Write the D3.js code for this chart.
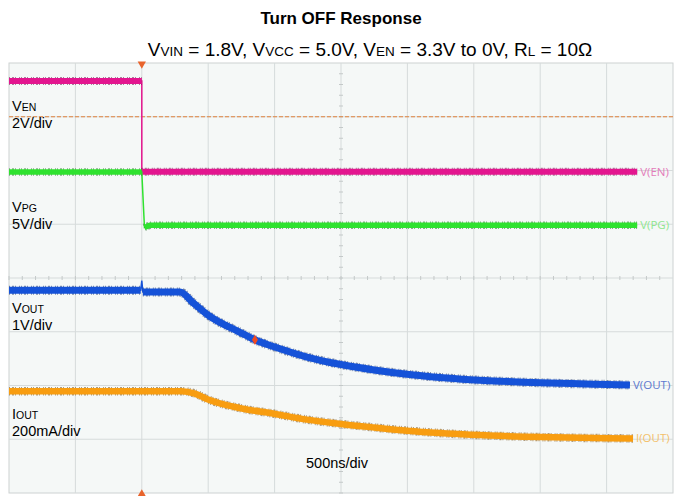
<!DOCTYPE html>
<html>
<head>
<meta charset="utf-8">
<script src="https://cdn.jsdelivr.net/npm/d3@7"></script>
<style>
  body { margin: 0; background: #fff; }
  text { font-family: "Liberation Sans", Arial, sans-serif; }
</style>
</head>
<body>
<div id="myGraph"></div>
<script>
// time axis in ns, 500ns/div, trigger 2 div from the left
var timeDomain = [-1000, 4000]
var divCount = 10
var rowCount = 8

// V(EN), volts
var enTime = [-1000, 0, 0, 3730]
var enVal = [3.33, 3.33, -0.05, -0.05]

// V(PG), volts
var pgTime = [-1000, 0, 20, 60, 3730]
var pgVal = [4.85, 4.85, -0.3, -0.1, -0.1]

// V(OUT), volts
var outTime = [-1000, -8, 0, 8, 288, 386, 499, 739, 852, 995, 1244, 1500, 1748, 1997, 2245, 3006, 3503, 3676]
var outVal = [1.77, 1.77, 1.95, 1.74, 1.74, 1.54, 1.31, 0.99, 0.85, 0.72, 0.53, 0.39, 0.29, 0.21, 0.15, 0.05, 0.02, 0.01]

// I(OUT), mA
var ioutTime = [-1000, 300, 400, 499, 739, 995, 1244, 1500, 1748, 1997, 2245, 3006, 3503, 3699]
var ioutVal = [179, 179, 170, 148, 116, 95, 73, 57, 44, 32, 23, 8, 4, 3]

// channel scale (units/div) and ground position (div from center)
var channels = [
  {name: "V(EN)", time: enTime, val: enVal, perDiv: 2, ground: 2, width: 6, color: "#e3168f", dark: "#5e0a3e", label: "#e37cba", curve: d3.curveLinear},
  {name: "V(PG)", time: pgTime, val: pgVal, perDiv: 5, ground: 1, width: 5.5, color: "#2fe22f", dark: "#165e16", label: "#8fe68f", curve: d3.curveLinear},
  {name: "V(OUT)", time: outTime, val: outVal, perDiv: 1, ground: -2, width: 7, color: "#1552d8", dark: "#081f5c", label: "#5d79cf", curve: d3.curveMonotoneX},
  {name: "I(OUT)", time: ioutTime, val: ioutVal, perDiv: 200, ground: -3, width: 6.5, color: "#f89d10", dark: "#6a4006", label: "#f3c06a", curve: d3.curveMonotoneX}
]

var sideLabels = [
  {main: "V", sub: "EN", scale: "2V/div", y: 111},
  {main: "V", sub: "PG", scale: "5V/div", y: 212},
  {main: "V", sub: "OUT", scale: "1V/div", y: 313},
  {main: "I", sub: "OUT", scale: "200mA/div", y: 419}
]

var triggerLevel = 3     // div, dashed level line
var cursorTime = 852     // marker dot on V(OUT)

var width = 678
var height = 496
var plot = {left: 9, right: 673, top: 63, bottom: 493}

var svg = d3.select("#myGraph")
  .append("svg")
    .attr("width", width)
    .attr("height", height)

var x = d3.scaleLinear().domain(timeDomain).range([plot.left, plot.right])
var y = d3.scaleLinear().domain([-rowCount / 2, rowCount / 2]).range([plot.bottom, plot.top])

// titles
svg.append("text")
  .attr("x", 341).attr("y", 24)
  .attr("text-anchor", "middle")
  .style("font-size", "17px").style("font-weight", "bold")
  .text("Turn OFF Response")

var sub = svg.append("text")
  .attr("x", 370).attr("y", 56)
  .attr("text-anchor", "middle")
  .style("font-size", "19px")
var subParts = [["V", "VIN", " = 1.8V, "], ["V", "VCC", " = 5.0V, "], ["V", "EN", " = 3.3V to 0V, "], ["R", "L", " = 10\u03a9"]]
subParts.forEach(function(p) {
  sub.append("tspan").text(p[0])
  sub.append("tspan").style("font-size", "13.5px").text(p[1])
  sub.append("tspan").text(p[2])
})

// plot background
svg.append("rect")
  .attr("x", plot.left).attr("y", plot.top)
  .attr("width", plot.right - plot.left).attr("height", plot.bottom - plot.top)
  .style("fill", "#f5f8f7")
  .style("stroke", "#cdd2d2")

// grid
var grid = svg.append("g").style("stroke", "#d6dbdb").style("stroke-width", 1)
grid.selectAll(".vline")
  .data(d3.range(1, divCount))
  .enter().append("line")
    .attr("x1", function(d) { return x(timeDomain[0] + d * 500) })
    .attr("x2", function(d) { return x(timeDomain[0] + d * 500) })
    .attr("y1", plot.top).attr("y2", plot.bottom)
grid.selectAll(".hline")
  .data(d3.range(-rowCount / 2 + 1, rowCount / 2))
  .enter().append("line")
    .attr("y1", function(d) { return y(d) })
    .attr("y2", function(d) { return y(d) })
    .attr("x1", plot.left).attr("x2", plot.right)

// minor ticks on the center cross
var cx = x(1500)
var ticks = svg.append("g").style("stroke", "#c4c9c9")
ticks.selectAll(".xt")
  .data(d3.range(timeDomain[0], timeDomain[1], 100))
  .enter().append("line")
    .attr("x1", function(d) { return x(d) }).attr("x2", function(d) { return x(d) })
    .attr("y1", y(0) - 2).attr("y2", y(0) + 2)
ticks.selectAll(".yt")
  .data(d3.range(-rowCount / 2, rowCount / 2, 0.2))
  .enter().append("line")
    .attr("y1", function(d) { return y(d) }).attr("y2", function(d) { return y(d) })
    .attr("x1", cx - 2).attr("x2", cx + 2)

// trigger level
svg.append("line")
  .attr("x1", plot.left).attr("x2", plot.right)
  .attr("y1", y(triggerLevel)).attr("y2", y(triggerLevel))
  .style("stroke", "#e0823c")
  .style("stroke-dasharray", "4,2")
  .style("stroke-width", 1)

// side labels
sideLabels.forEach(function(l) {
  var t = svg.append("text").attr("x", 12).attr("y", l.y).style("font-size", "14.5px")
  t.append("tspan").text(l.main)
  t.append("tspan").style("font-size", "10.5px").text(l.sub)
  svg.append("text").attr("x", 12).attr("y", l.y + 17).style("font-size", "14.5px").text(l.scale)
})

svg.append("text")
  .attr("x", 306).attr("y", 468)
  .style("font-size", "14.5px")
  .text("500ns/div")

// traces: thin line for the whole record, thick band over the slow parts
channels.forEach(function(c) {
  var pts = c.time.map(function(t, i) { return [x(t), y(c.ground + c.val[i] / c.perDiv)] })
  var line = d3.line().curve(c.curve)
  // split where the trace jumps (steep edges are drawn thin like on the scope)
  var runs = [[pts[0]]]
  for (var i = 1; i < pts.length; i++) {
    var dx = pts[i][0] - pts[i - 1][0]
    var dy = Math.abs(pts[i][1] - pts[i - 1][1])
    if (dy > 4 * Math.max(dx, 0.1)) runs.push([pts[i]])
    else runs[runs.length - 1].push(pts[i])
  }
  svg.append("path")
    .attr("d", d3.line()(pts))
    .style("fill", "none")
    .style("stroke", c.color)
    .style("stroke-width", 1.5)
  runs.filter(function(r) { return r.length > 1 }).forEach(function(r) {
    svg.append("path")
      .attr("d", line(r))
      .style("fill", "none")
      .style("stroke", c.dark)
      .style("stroke-width", c.width + 2)
      .style("stroke-dasharray", "1,2,2,1,1,3,1,1")
      .style("opacity", 0.5)
    svg.append("path")
      .attr("d", line(r))
      .style("fill", "none")
      .style("stroke", c.color)
      .style("stroke-width", c.width)
  })
  var last = pts[pts.length - 1]
  svg.append("text")
    .attr("x", last[0] + 3).attr("y", last[1] + 4)
    .style("font-family", "'Open Sans', sans-serif")
    .style("font-size", "11.5px")
    .style("fill", c.label)
    .text(c.name)
})

// cursor dot on V(OUT)
var outCh = channels[2]
svg.append("path")
  .attr("d", d3.symbol().type(d3.symbolDiamond).size(30)())
  .attr("transform", "translate(" + x(cursorTime) + "," + y(outCh.ground + outVal[outTime.indexOf(cursorTime)] / outCh.perDiv) + ")")
  .style("fill", "#ee4a22")

// trigger markers
svg.append("path")
  .attr("d", d3.symbol().type(d3.symbolTriangle).size(30)())
  .attr("transform", "translate(" + x(0) + "," + (plot.top + 1) + ") rotate(180)")
  .style("fill", "#e8642c")
svg.append("path")
  .attr("d", d3.symbol().type(d3.symbolTriangle).size(30)())
  .attr("transform", "translate(" + x(0) + "," + (plot.bottom + 1) + ")")
  .style("fill", "#e8642c")
</script>
</body>
</html>
